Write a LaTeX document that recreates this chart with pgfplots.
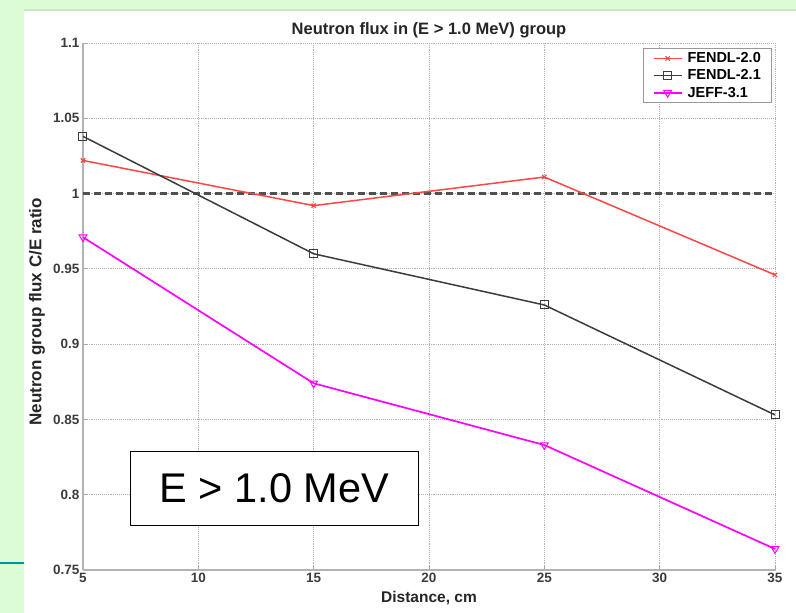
\documentclass[border=0pt]{standalone}
\usepackage{fontspec}
\setmainfont{Liberation Sans}
\usepackage{pgfplots}
\pgfplotsset{compat=1.18}
\definecolor{slideGreen}{RGB}{220,252,214}
\definecolor{panelEdge}{RGB}{200,232,200}
\definecolor{slideTeal}{RGB}{0,150,150}
\definecolor{fendlA}{RGB}{255,70,70}
\definecolor{fendlB}{RGB}{60,60,60}
\definecolor{jeff}{RGB}{255,0,255}
\definecolor{tickGray}{RGB}{60,60,60}

\begin{document}
\begin{tikzpicture}
% slide background
\useasboundingbox (0pt,0pt) rectangle (796pt,613pt);
\fill[slideGreen] (0pt,0pt) rectangle (796pt,613pt);
\fill[white] (24pt,0pt) rectangle (796pt,603pt);
\draw[panelEdge,line width=1.5pt] (24pt,603pt) -- (796pt,603pt);
\draw[slideTeal,line width=2pt] (0pt,50pt) -- (24pt,50pt);

\begin{axis}[
at={(83pt,43pt)},anchor=south west,
scale only axis,width=692pt,height=527pt,
xmin=5,xmax=35,ymin=0.75,ymax=1.1,
xtick={5,10,15,20,25,30,35},
ytick={0.75,0.8,0.85,0.9,0.95,1,1.05,1.1},
axis x line*=bottom,axis y line*=left,
axis line style={draw=gray!60,line width=1.4pt,-},
tick align=inside,major tick length=4pt,
tick style={draw=gray!70,line width=0.8pt},
grid=major,
major grid style={draw=gray!60,line width=0.9pt,dash pattern=on 0.8pt off 1.1pt},
/pgf/number format/assume math mode=true,
tick label style={font=\bfseries\fontsize{13.5}{14}\selectfont,text=tickGray},
title={Neutron flux in (E > 1.0 MeV) group},
title style={at={(axis description cs:0.5,1)},anchor=center,yshift=7pt,
  font=\bfseries\fontsize{16.5}{18}\selectfont,text=black!85},
xlabel={Distance, cm},
xlabel style={at={(axis description cs:0.5,0)},anchor=center,yshift=-28pt,
  font=\bfseries\fontsize{15.5}{17}\selectfont,text=black!85},
ylabel={Neutron group flux C/E ratio},
ylabel style={at={(axis description cs:0,0.49)},anchor=center,yshift=46pt,
  font=\bfseries\fontsize{17}{19}\selectfont,text=black!85},
clip=false,
legend style={at={(0.996,0.99)},anchor=north east,
  font=\bfseries\fontsize{14.5}{16}\selectfont,draw=gray!80,line width=0.8pt,
  row sep=1.5pt,inner xsep=9pt,inner ysep=2pt,
  /tikz/every odd column/.append style={column sep=3pt}},
legend cell align=left,
legend image code/.code={\draw[mark repeat=2,mark phase=2,#1]
  plot coordinates {(0pt,0pt)(14pt,0pt)(28pt,0pt)};}
]
\addplot[fendlB!90,line width=2.3pt,dash pattern=on 7pt off 4pt,forget plot]
  coordinates {(5,1)(35,1)};
\addplot[fendlA,line width=1.5pt,mark=x,mark size=3pt,mark options={solid,line width=1.2pt}]
  coordinates {(5,1.022)(15,0.992)(25,1.011)(35,0.946)};
\addlegendentry{FENDL-2.0}
\addplot[fendlB,line width=1.5pt,mark=square,mark size=4pt,mark options={solid,line width=1pt}]
  coordinates {(5,1.038)(15,0.960)(25,0.926)(35,0.853)};
\addlegendentry{FENDL-2.1}
\addplot[jeff,line width=1.7pt,mark=triangle,mark size=4.5pt,mark options={solid,rotate=180,line width=1pt}]
  coordinates {(5,0.971)(15,0.874)(25,0.833)(35,0.764)};
\addlegendentry{JEFF-3.1}
\node[draw=black,line width=1.5pt,fill=white,minimum width=288pt,minimum height=74pt,
  inner sep=0pt,font=\fontsize{41.5}{44}\selectfont] at (axis cs:13.3,0.804) {E > 1.0 MeV};
\end{axis}
\end{tikzpicture}
\end{document}
